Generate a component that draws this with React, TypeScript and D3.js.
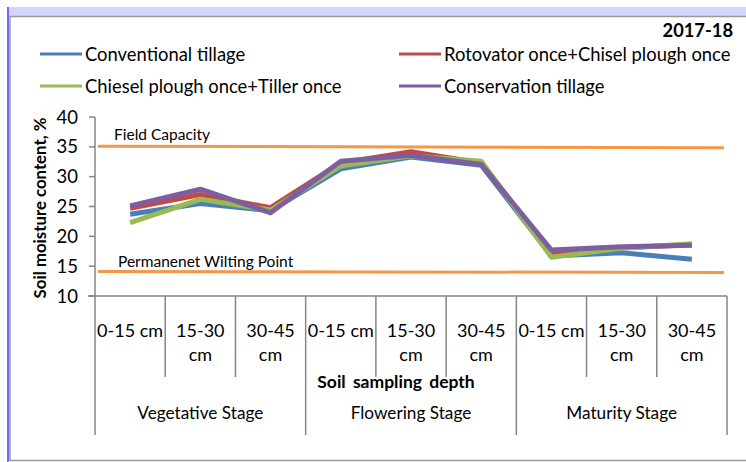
import React from 'react';
import * as d3 from 'd3';

// depth categories and stage groups
const depths = ['0-15 cm', '15-30 cm', '30-45 cm', '0-15 cm', '15-30 cm', '30-45 cm', '0-15 cm', '15-30 cm', '30-45 cm'];
const stages = ['Vegetative Stage', 'Flowering Stage', 'Maturity Stage'];

const conventional = [23.7, 25.5, 24.3, 31.3, 33.3, 31.9, 16.7, 17.25, 16.15];
const rotovator = [24.7, 27.0, 24.8, 32.3, 34.2, 32.3, 17.15, 18.1, 18.6];
const chiesel = [22.3, 26.2, 24.4, 31.8, 33.5, 32.6, 16.5, 18.0, 18.75];
const conservation = [25.1, 27.9, 23.95, 32.6, 33.6, 32.05, 17.7, 18.25, 18.5];

const fieldCapacity = [35.1, 34.85];
const wiltingPoint = [14.1, 13.95];

const yTicks = [10, 15, 20, 25, 30, 35, 40];

const series = [
  { name: 'Conventional tillage', values: conventional, color: '#4a7ebb' },
  { name: 'Rotovator once+Chisel plough once', values: rotovator, color: '#be4b48' },
  { name: 'Chiesel plough once+Tiller once', values: chiesel, color: '#98b954' },
  { name: 'Conservation tillage', values: conservation, color: '#7d5fa0' },
];

const W = 746, H = 462;
const font = 'Lato, Calibri, sans-serif';

export default function App() {
  const x = d3.scaleBand<number>().domain(d3.range(depths.length)).range([95, 727]);
  const y = d3.scaleLinear().domain([10, 40]).range([296, 117]);
  const cx = (i: number) => (x(i) as number) + x.bandwidth() / 2;

  const line = d3.line<number>().x((_, i) => cx(i)).y(d => y(d));
  const refX = d3.scaleLinear().domain([0, 1]).range([98, 724]);
  const refLine = d3.line<number>().x((_, i) => refX(i)).y(d => y(d));

  const grey = '#868686';
  const stageW = x.bandwidth() * 3;

  return (
    <div style={{ position: 'fixed', left: 0, top: 0 }}>
      <svg width={W} height={H} style={{ display: 'block', background: '#fff' }} fontFamily={font}>
        <rect x={9} y={7} width={W - 9} height={9} fill="#d4d4fc" />
        <rect x={7} y={7} width={2} height={H - 7} fill="#6a6af8" />
        <line x1={10} y1={16.5} x2={W} y2={16.5} stroke="#999" strokeWidth={1.5} />
        <line x1={10} y1={16} x2={10} y2={461} stroke="#999" strokeWidth={1.5} />
        <line x1={10} y1={460.5} x2={W} y2={460.5} stroke="#999" strokeWidth={1.5} />

        <text x={733} y={37} textAnchor="end" fontWeight="bold" fontSize={18.3}>2017-18</text>

        {series.map((s, i) => {
          const lx = i % 2 === 0 ? 40 : 399;
          const ly = i < 2 ? 54 : 86;
          return (
            <g key={s.name}>
              <line x1={lx} x2={lx + 42} y1={ly} y2={ly} stroke={s.color} strokeWidth={3} />
              <text x={lx + 45} y={ly + 6.5} fontSize={18.4}>{s.name}</text>
            </g>
          );
        })}

        {/* y axis */}
        <line x1={95} x2={95} y1={117} y2={435} stroke={grey} strokeWidth={1.5} />
        {yTicks.map(t => (
          <g key={t}>
            <line x1={89} x2={95} y1={y(t)} y2={y(t)} stroke={grey} strokeWidth={1.5} />
            <text x={78} y={y(t) + 6.5} textAnchor="end" fontSize={18.5}>{t}</text>
          </g>
        ))}
        <text transform={`translate(46,208) rotate(-90)`} textAnchor="middle" fontWeight="bold" fontSize={16.8}>
          Soil moisture content, %
        </text>

        {/* x axis */}
        <line x1={88} x2={727} y1={y(10)} y2={y(10)} stroke={grey} strokeWidth={1.5} />
        {depths.map((d, i) => {
          const left = x(i) as number;
          const isStage = i % 3 === 0;
          const parts = d.split(' ');
          return (
            <g key={i}>
              {i > 0 && (
                <line x1={left} x2={left} y1={y(10)} y2={isStage ? 435 : 377} stroke={grey} strokeWidth={1.5} />
              )}
              {isStage ? (
                <text x={cx(i)} y={337} textAnchor="middle" fontSize={18}>{d}</text>
              ) : (
                <text x={cx(i)} textAnchor="middle" fontSize={18}>
                  <tspan x={cx(i)} y={337}>{parts[0]}</tspan>
                  <tspan x={cx(i)} y={361}>{parts[1]}</tspan>
                </text>
              )}
            </g>
          );
        })}
        <line x1={727} x2={727} y1={y(10)} y2={435} stroke={grey} strokeWidth={1.5} />
        <text x={396} y={388} textAnchor="middle" fontWeight="bold" fontSize={17.5} wordSpacing={3}>Soil sampling depth</text>
        {stages.map((s, i) => (
          <text key={s} x={95 + stageW * i + stageW / 2} y={419} textAnchor="middle" fontSize={17.2}>{s}</text>
        ))}

        {/* reference lines */}
        <path d={refLine(fieldCapacity) as string} fill="none" stroke="#f79646" strokeWidth={3} />
        <path d={refLine(wiltingPoint) as string} fill="none" stroke="#f79646" strokeWidth={3} />
        <text x={114} y={140} fontSize={15.5}>Field Capacity</text>
        <text x={118} y={267} fontSize={15.5}>Permanenet Wilting Point</text>

        {series.map(s => (
          <path key={s.name} d={line(s.values) as string} fill="none" stroke={s.color} strokeWidth={5} strokeLinejoin="round" />
        ))}
      </svg>
    </div>
  );
}
